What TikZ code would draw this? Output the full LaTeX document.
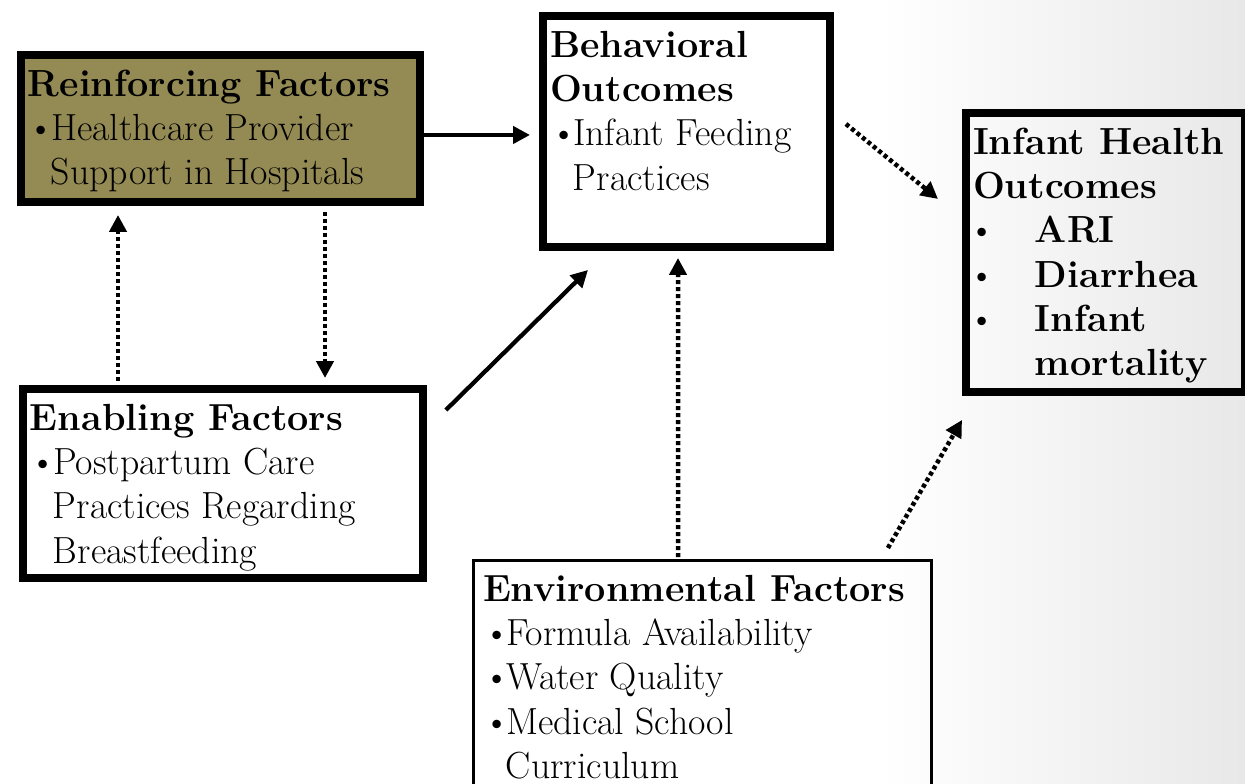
\documentclass[tikz,border=0pt]{standalone}
\usetikzlibrary{arrows.meta,calc}
\definecolor{olivefill}{HTML}{948A54}
\newcommand{\itembul}{\makebox[0.46cm][l]{\textbullet}}
\newcommand{\itemgap}{\hspace*{0.46cm}}
\newcommand{\widebul}{\makebox[1.24cm][l]{\hspace*{-0.1cm}\textbullet}}
\newcommand{\widegap}{\hspace*{1.24cm}}
\tikzset{
    factor/.style={draw=black, line width=0.16cm, anchor=north west, inner xsep=0.14cm, inner ysep=0.3cm, font=\fontsize{21.5}{25.2}\selectfont},
    factorthin/.style={factor, line width=0.06cm, inner xsep=0.2cm},
    solidarrow/.style={line width=0.085cm, -{Triangle[length=0.34cm,width=0.34cm]}},
    dotarrow/.style={solidarrow, line width=0.09cm, dash pattern=on 0.08cm off 0.06cm}
}
\begin{document}
\begin{tikzpicture}[x=0.02cm, y=-0.02cm]
    \useasboundingbox (0,0) rectangle (1245,784);
    \fill[white] (0,0) rectangle (1245,784);
    \shade[left color=white, right color=black!9] (880,0) rectangle (1245,784);
    \node[factor, fill=olivefill] (reinf) at (17,51) {\parbox[c][2.34cm][t]{7.70cm}{\textbf{Reinforcing Factors}\\\itembul Healthcare Provider\\\itemgap Support in Hospitals}};
    \node[factor, fill=white] (behav) at (539,12) {\parbox[c][4.02cm][t]{5.46cm}{\textbf{Behavioral}\\\textbf{Outcomes}\\\itembul Infant Feeding\\\itemgap Practices}};
    \node[factor] (infant) at (962,109) {\parbox[c][4.98cm][t]{5.30cm}{\textbf{Infant Health}\\\textbf{Outcomes}\\\widebul\textbf{ARI}\\\widebul\textbf{Diarrhea}\\\widebul\textbf{Infant}\\\widegap\textbf{mortality}}};
    \node[factor, fill=white] (enab) at (19,385) {\parbox[c][3.18cm][t]{7.72cm}{\textbf{Enabling Factors}\\\itembul Postpartum Care\\\itemgap Practices Regarding\\\itemgap Breastfeeding}};
    \node[factorthin] (env) at (471.5,558.5) {\parbox[c][4.43cm][t]{8.78cm}{\textbf{Environmental Factors}\\\itembul Formula Availability\\\itembul Water Quality\\\itembul Medical School\\\itemgap Curriculum}};
    \draw[solidarrow] ($(reinf.east)+(0,6.5)$) -- ($(reinf.east -| behav.west)+(-9,6.5)$);
    \draw[dotarrow] ($(behav.east)+(12,-7.5)$) -- ($(infant.west)+(-24,-53.5)$);
    \draw[dotarrow] ($(enab.north west)+(99,-4)$) -- ($(reinf.south west)+(101,9)$);
    \draw[dotarrow] ($(reinf.south west)+(308,6)$) -- ($(enab.north west)+(306,-7)$);
    \draw[solidarrow] ($(enab.north east)+(19,25)$) -- ($(behav.south west)+(49,19)$);
    \draw[dotarrow] ($(env.north west)+(206.5,-1.5)$) -- ($(behav.south west)+(139,7)$);
    \draw[dotarrow] ($(env.north east)+(-45.5,-10.5)$) -- ($(infant.south west)+(0,24)$);
\end{tikzpicture}
\end{document}
